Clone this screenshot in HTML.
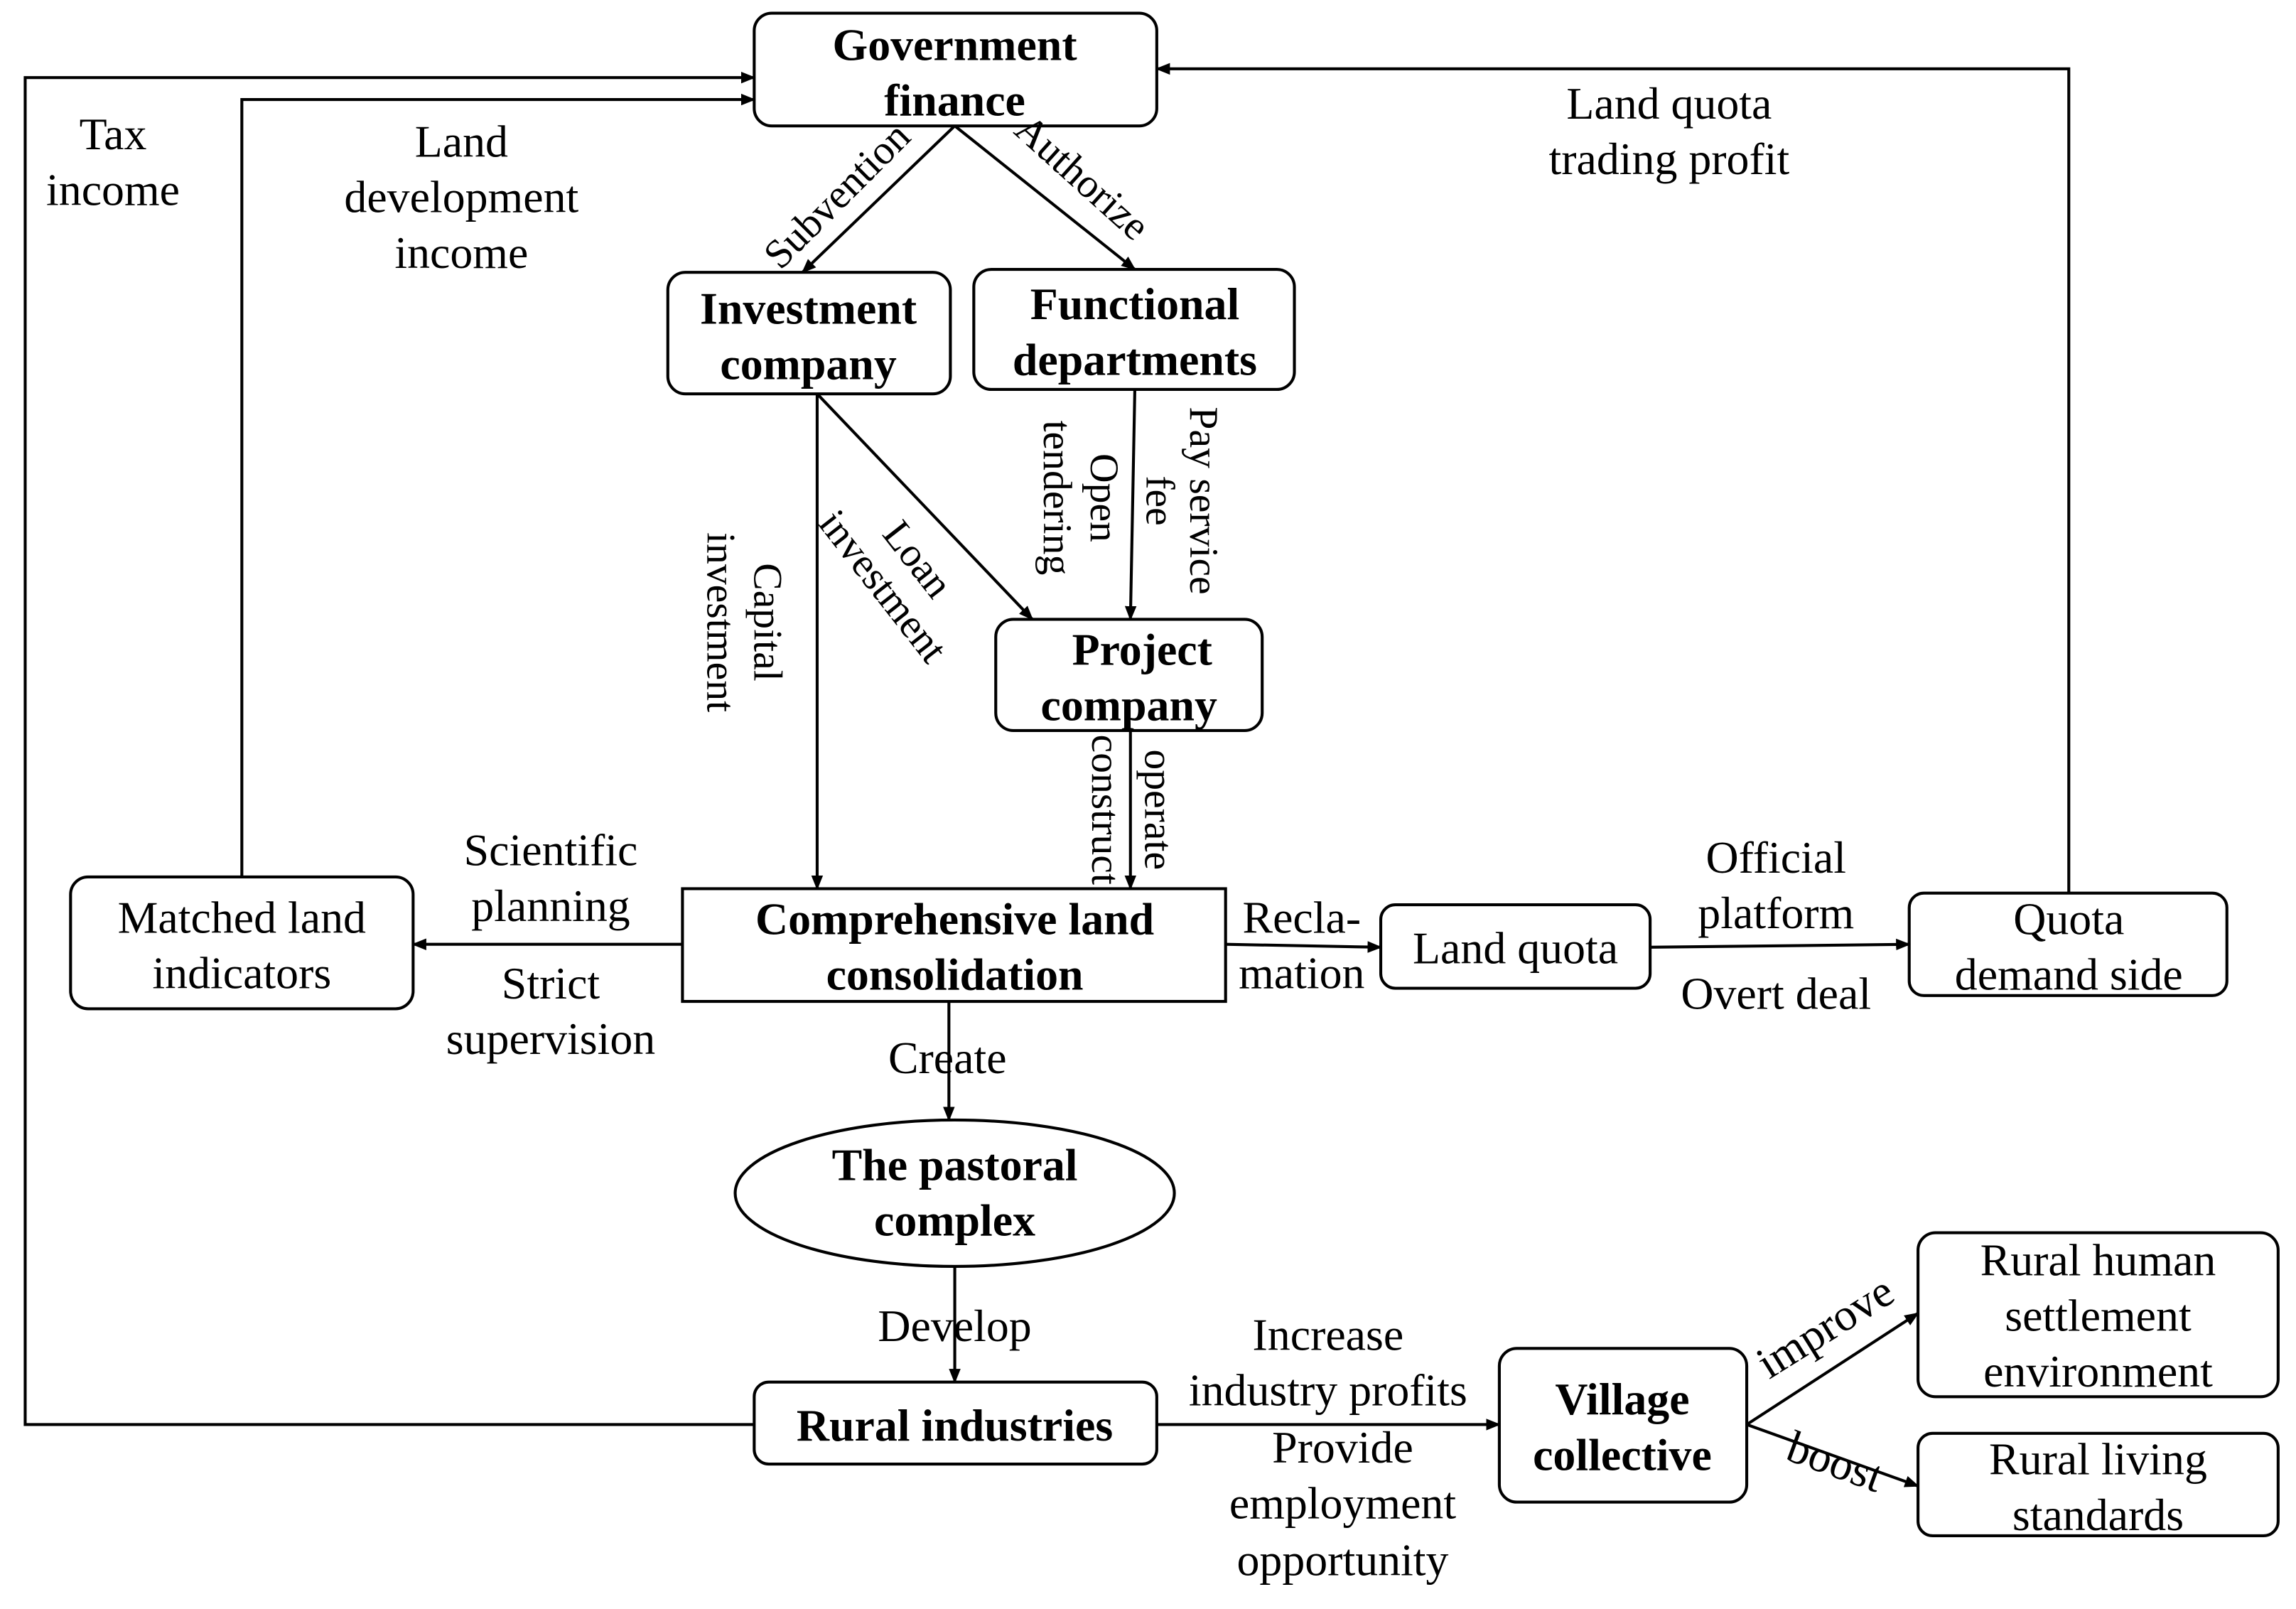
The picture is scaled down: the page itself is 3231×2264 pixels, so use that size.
<!DOCTYPE html>
<html><head><meta charset="utf-8"><style>
html,body{margin:0;padding:0;background:#fff;}
svg{display:block;}
text{font-family:"Liberation Serif",serif;font-size:31px;fill:#000;}
.b{font-weight:bold;}
.r{font-size:28px;}
</style></head><body>
<svg width="3231" height="2264" viewBox="0 0 1568 1099" xmlns="http://www.w3.org/2000/svg">
<defs><marker id="a" markerWidth="10" markerHeight="10" refX="9" refY="5" orient="auto" markerUnits="userSpaceOnUse"><path d="M0,1 L10,5 L0,9 z" fill="#000"/></marker></defs>
<g fill="none" stroke="#000" stroke-width="2">
<rect x="515" y="9" width="275" height="77" rx="12"/>
<rect x="456" y="186" width="193" height="83" rx="12"/>
<rect x="665" y="184" width="219" height="82" rx="12"/>
<rect x="680" y="423" width="182" height="76" rx="12"/>
<rect x="466" y="607" width="371" height="77"/>
<rect x="48" y="599" width="234" height="90" rx="12"/>
<rect x="943" y="618" width="184" height="57" rx="10"/>
<rect x="1304" y="610" width="217" height="70" rx="10"/>
<ellipse cx="652" cy="815" rx="150" ry="50"/>
<rect x="515" y="944" width="275" height="56" rx="10"/>
<rect x="1024" y="921" width="169" height="105" rx="12"/>
<rect x="1310" y="842" width="246" height="112" rx="12"/>
<rect x="1310" y="979" width="246" height="70" rx="10"/>
</g>
<g fill="none" stroke="#000" stroke-width="2" marker-end="url(#a)">
<polyline points="515,973 17,973 17,53 515,53"/>
<polyline points="165,599 165,68 515,68"/>
<polyline points="1413,610 1413,47 790,47"/>
<line x1="652" y1="86" x2="548" y2="186"/>
<line x1="652" y1="86" x2="775" y2="184"/>
<line x1="558" y1="269" x2="558" y2="607"/>
<line x1="558" y1="269" x2="705" y2="423"/>
<line x1="775" y1="266" x2="772" y2="423"/>
<line x1="772" y1="499" x2="772" y2="607"/>
<line x1="466" y1="645" x2="282" y2="645"/>
<line x1="837" y1="645" x2="943" y2="647"/>
<line x1="1127" y1="647" x2="1304" y2="645"/>
<line x1="648" y1="684" x2="648" y2="765"/>
<line x1="652" y1="865" x2="652" y2="944"/>
<line x1="790" y1="973" x2="1024" y2="973"/>
<line x1="1193" y1="973" x2="1310" y2="897"/>
<line x1="1193" y1="973" x2="1310" y2="1015"/>
</g>
<g text-anchor="middle">
<text class="b" x="652" y="41">Government</text><text class="b" x="652" y="79">finance</text>
<text class="b" x="552" y="221">Investment</text><text class="b" x="552" y="259">company</text>
<text class="b" x="775" y="218">Functional</text><text class="b" x="775" y="256">departments</text>
<text class="b" x="780" y="454">Project</text><text class="b" x="771" y="492">company</text>
<text class="b" x="652" y="638">Comprehensive land</text><text class="b" x="652" y="676">consolidation</text>
<text x="165" y="637">Matched land</text><text x="165" y="675">indicators</text>
<text x="1035" y="658">Land quota</text>
<text x="1413" y="638">Quota</text><text x="1413" y="676">demand side</text>
<text class="b" x="652" y="806">The pastoral</text><text class="b" x="652" y="844">complex</text>
<text class="b" x="652" y="984">Rural industries</text>
<text class="b" x="1108" y="966">Village</text><text class="b" x="1108" y="1004">collective</text>
<text x="1433" y="871">Rural human</text><text x="1433" y="909">settlement</text><text x="1433" y="947">environment</text>
<text x="1433" y="1007">Rural living</text><text x="1433" y="1045">standards</text>
<text x="77" y="102">Tax</text><text x="77" y="140">income</text>
<text x="315" y="107">Land</text><text x="315" y="145">development</text><text x="315" y="183">income</text>
<text x="1140" y="81">Land quota</text><text x="1140" y="119">trading profit</text>
<text x="376" y="591">Scientific</text><text x="376" y="629">planning</text>
<text x="376" y="682">Strict</text><text x="376" y="720">supervision</text>
<text x="889" y="637">Recla-</text><text x="889" y="675">mation</text>
<text x="1213" y="596">Official</text><text x="1213" y="634">platform</text>
<text x="1213" y="689">Overt deal</text>
<text x="647" y="733">Create</text>
<text x="652" y="916">Develop</text>
<text x="907" y="922">Increase</text><text x="907" y="960">industry profits</text>
<text x="917" y="999">Provide</text><text x="917" y="1037">employment</text><text x="917" y="1076">opportunity</text>
<text class="r" transform="translate(578,140) rotate(-45)">Subvention</text>
<text class="r" transform="translate(733,128) rotate(42)">Authorize</text>
<text class="r" transform="translate(610,395) rotate(52)"><tspan x="0" y="-12">Loan</tspan><tspan x="0" y="18">investment</tspan></text>
<text class="r" transform="translate(505,425) rotate(90)"><tspan x="0" y="-10">Capital</tspan><tspan x="0" y="22">investment</tspan></text>
<text class="r" transform="translate(735,340) rotate(90)"><tspan x="0" y="-10">Open</tspan><tspan x="0" y="22">tendering</tspan></text>
<text class="r" transform="translate(805,342) rotate(90)"><tspan x="0" y="-8">Pay service</tspan><tspan x="0" y="22">fee</tspan></text>
<text class="r" transform="translate(746,553) rotate(90)">construct</text>
<text class="r" transform="translate(782,553) rotate(90)">operate</text>
<text transform="translate(1252,915) rotate(-32)">improve</text>
<text transform="translate(1250,1008) rotate(20)">boost</text>
</g>
</svg>
</body></html>
